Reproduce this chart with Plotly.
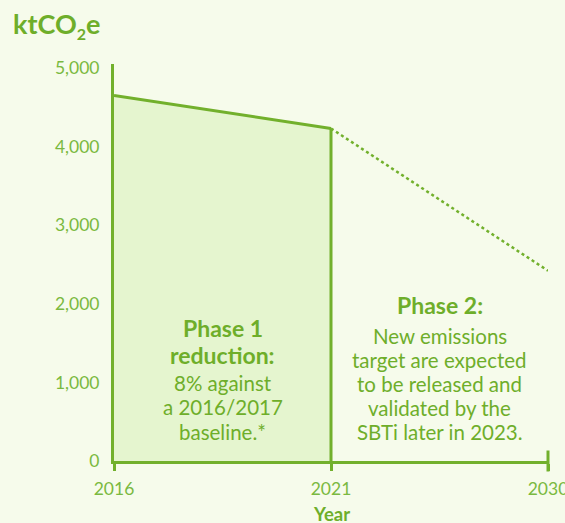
import plotly.graph_objects as go

years = ["2016", "2021", "2030"]
emissions_actual = [4650, 4230]          # 2016, 2021
emissions_target = [4230, 2420]          # 2021 -> 2030 (dotted)
y_ticks = [0, 1000, 2000, 3000, 4000, 5000]
y_tick_labels = ["0", "1,000", "2,000", "3,000", "4,000", "5,000"]

GREEN = "#72B02C"
TEXT = "#6EAE2A"
TICK = "#7AB940"
FILL = "#E5F5CF"
BG = "#F6FBEB"
FONT = "Lato"

fig = go.Figure()

# Phase 1 filled area
fig.add_trace(go.Scatter(
    x=years[:2], y=emissions_actual, mode="lines", fill="tozeroy",
    fillcolor=FILL, line=dict(color=GREEN, width=3), cliponaxis=False,
    hoverinfo="skip", showlegend=False))
# vertical line at 2021
fig.add_trace(go.Scatter(
    x=[years[1], years[1]], y=[0, emissions_actual[1]], mode="lines",
    line=dict(color=GREEN, width=3), cliponaxis=False,
    hoverinfo="skip", showlegend=False))
# dotted projection
fig.add_trace(go.Scatter(
    x=years[1:], y=emissions_target, mode="lines",
    line=dict(color=GREEN, width=2.5, dash="dot"), cliponaxis=False,
    hoverinfo="skip", showlegend=False))
# end cap at 2030
fig.add_trace(go.Scatter(
    x=[years[2]], y=[0], mode="markers",
    marker=dict(symbol="line-ns", size=15, line=dict(color=GREEN, width=3)),
    cliponaxis=False, hoverinfo="skip", showlegend=False))

annotations = []

def line(x, y, text, bold=False, size=20.5):
    annotations.append(dict(
        x=x, y=y, xref="x", yref="y", text=f"<b>{text}</b>" if bold else text,
        showarrow=False, xanchor="center", yanchor="middle",
        font=dict(family=FONT, size=size, color=TEXT,
                  weight=700 if bold else 400)))

# Phase 1 text
line(0.5, 1692, "Phase 1", bold=True, size=23)
line(0.5, 1349, "reduction:", bold=True, size=23)
line(0.5, 992, "8% against")
line(0.5, 687, "a 2016/2017")
line(0.5, 369, "baseline.*")

# Phase 2 text
line(1.5, 1985, "Phase 2:", bold=True, size=23)
line(1.5, 1590, "New emissions")
line(1.5, 1285, "target are expected")
line(1.5, 980, "to be released and")
line(1.5, 674, "validated by the")
line(1.5, 369, "SBTi later in 2023.")

annotations.append(dict(
    x=-0.237, y=1.098, xref="paper", yref="paper",
    text="<b>ktCO<sub><span style='font-size:16px'>2</span></sub>e</b>",
    showarrow=False, xanchor="left", yanchor="middle",
    font=dict(family=FONT, size=27, color=TEXT)))
annotations.append(dict(
    x=1, y=-0.133, xref="x", yref="paper", text="<b>Year</b>",
    showarrow=False, xanchor="center", yanchor="middle",
    font=dict(family=FONT, size=18.5, color=TEXT)))

fig.update_layout(
    width=565, height=523, autosize=False,
    margin=dict(l=114, r=17, t=64, b=62, autoexpand=False),
    paper_bgcolor=BG, plot_bgcolor=BG,
    annotations=annotations,
    xaxis=dict(
        type="category", categoryorder="array", categoryarray=years,
        range=[0, 2], showgrid=False, zeroline=False, automargin=False,
        showline=True, linecolor=GREEN, linewidth=3,
        ticks="outside", ticklen=7, tickwidth=3, tickcolor=GREEN,
        tickfont=dict(family=FONT, size=17.5, color=TICK, weight=400),
        ticklabelstandoff=3, fixedrange=True),
    yaxis=dict(
        range=[0, 5050], showgrid=False, zeroline=False, automargin=False,
        showline=True, linecolor=GREEN, linewidth=3,
        tickvals=y_ticks, ticktext=y_tick_labels, ticks="",
        tickfont=dict(family=FONT, size=17.5, color=TICK, weight=400),
        ticklabelstandoff=8, fixedrange=True),
)

post = (
    "document.body.style.margin='0';"
    "document.body.style.overflow='hidden';"
    "var gd=document.getElementById('{plot_id}');"
    "Plotly.relayout(gd,{width:565,height:523});"
)

fig.write_html("out.html", config={"responsive": False, "displayModeBar": False},
               post_script=post)
